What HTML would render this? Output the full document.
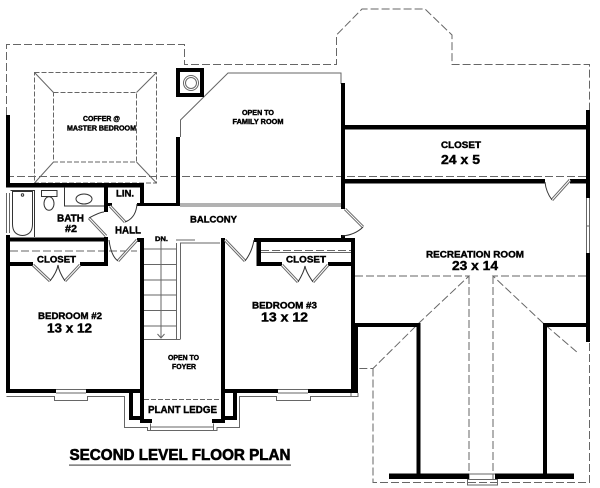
<!DOCTYPE html>
<html><head><meta charset="utf-8"><style>
html,body{margin:0;padding:0;background:#fff}
svg{display:block}
text{font-family:"Liberation Sans",sans-serif;font-weight:bold;fill:#000;stroke:#000;stroke-width:.4;text-anchor:middle}
.s{font-size:7px}.m{font-size:10px}.b{font-size:13px}
.d{fill:none;stroke:#666;stroke-width:1;stroke-dasharray:8 3}
.d2{fill:none;stroke:#666;stroke-width:1;stroke-dasharray:5 2}
.g{fill:none;stroke:#666;stroke-width:1}
.dr{fill:none;stroke:#666;stroke-width:3}
.dri{fill:none;stroke:#fff;stroke-width:1}
.k{fill:none;stroke:#333;stroke-width:1}
</style></head><body>
<svg width="600" height="488" viewBox="0 0 600 488" xmlns="http://www.w3.org/2000/svg">
<rect width="600" height="488" fill="#fff"/>

<path class="d" d="M6.500 115V44.500H184.500V64.500H336.500V35L362 9H425L452 35V64.500H589.500V110"/>
<path class="d" d="M6 176.500H590"/>
<path class="d2" d="M34.500 72.500H156.500V183H34.500Z"/>
<path class="d2" d="M53.500 92.500H136.500V162H53.500Z"/>
<path class="g" d="M34.500 72.500L53.500 92.500M156.500 72.500L136.500 92.500M34.500 183L53.500 162M156.500 183L136.500 162"/>
<path class="d" d="M355 276H469L419 323L373 368.500H358"/>
<path class="d" d="M586 276H493L543 323L578 353"/>
<path class="d" d="M469 276V480M493 276V480"/>
<path class="d" d="M373 368.500V482.500H589.500V342"/>
<path class="d" d="M10 251H137M261 250.500H351"/>
<path class="g" d="M261 252.500H351"/>
<path class="d2" d="M144 399.500H221"/>

<path class="g" d="M180.500 137V120L228 73H341V84"/>
<rect x="178" y="70" width="24" height="25" fill="#fff" stroke="#000" stroke-width="4"/>
<circle cx="191" cy="83" r="7.500" class="g"/>
<circle cx="191" cy="83" r="5.500" class="g"/>

<g fill="#000">
<rect x="6" y="115" width="4" height="72"/>
<rect x="6" y="235" width="4" height="158"/>
<rect x="6" y="183" width="138" height="4.500"/>
<rect x="176" y="137" width="4" height="69"/>
<rect x="341" y="83" width="4" height="126"/>
<rect x="345" y="125" width="241" height="4.500"/>
<rect x="345" y="179" width="200" height="4.500"/>
<rect x="570" y="179" width="16" height="4.500"/>
<rect x="586" y="110" width="4" height="88"/>
<rect x="586" y="253" width="4" height="89"/>
<rect x="104" y="187" width="4" height="25"/>
<rect x="140" y="184" width="4" height="20"/>
<rect x="108" y="203" width="4" height="3"/>
<rect x="137" y="203" width="43" height="3"/>
<rect x="10" y="237.500" width="98" height="4"/>
<rect x="104" y="237" width="4" height="29"/>
<rect x="8" y="262" width="25" height="4"/>
<rect x="80" y="262" width="28" height="4"/>
<rect x="137" y="238" width="7" height="4"/>
<rect x="140" y="238" width="4" height="185"/>
<rect x="221" y="238" width="4" height="185"/>
<rect x="254" y="238" width="101" height="4"/>
<rect x="341" y="235" width="4" height="4"/>
<rect x="256.500" y="240" width="4.500" height="26"/>
<rect x="257" y="262" width="25" height="4"/>
<rect x="328" y="262" width="27" height="4"/>
<rect x="351" y="240" width="4" height="84"/>
<rect x="351" y="323" width="7" height="70"/>
<rect x="351" y="323" width="69" height="4"/>
<rect x="416.500" y="323" width="4" height="152"/>
<rect x="543" y="323" width="4" height="152"/>
<rect x="543" y="323" width="43" height="4"/>
<rect x="389" y="473.500" width="80" height="5.500"/>
<rect x="495" y="473.500" width="79" height="5.500"/>
<rect x="6" y="389" width="50" height="4"/>
<rect x="86" y="389" width="54" height="4"/>
<rect x="225" y="389" width="53" height="4"/>
<rect x="308" y="389" width="43" height="4"/>
<rect x="129" y="389" width="4" height="31"/>
<rect x="129" y="416" width="15" height="4"/>
<rect x="233" y="389" width="4" height="31"/>
<rect x="221" y="416" width="16" height="4"/>
<rect x="140" y="419" width="12" height="4"/>
<rect x="212" y="419" width="13" height="4"/>
</g>

<path class="g" d="M6.500 396.500H54.500V400.500H87.500V396.500H124.500V427.500H147.500V430.500H150.500"/>
<path class="g" d="M150.500 423.500V430.500H213.500V423.500M150.500 427H213.500"/>
<path class="g" d="M213.500 430.500H217V427.500H239.500V396.500H276.500V400.500H310.500V396.500H351V393"/>
<path class="g" d="M56 389.500H86M56 393H86M278 389.500H308M278 393H308"/>
<path class="g" d="M358 393V396.500H340"/>
<path class="g" d="M469 474H495M467.500 479.500H497.500V485H467.500Z"/>
<path class="g" d="M586.500 198V253M589.500 198V253M586 226H590"/>
<path class="g" d="M6.500 193V233M9.500 193V233"/>
<path class="g" d="M180 204H341M180 206H341"/>
<path class="g" d="M176 240H195M180 243H220"/>
<path class="g" d="M176.500 243V339.500M180.500 243V339.500"/>
<path class="g" d="M144 249H176M144 264.500H176M144 280H176M144 295H176M144 310.500H176M144 326H176M144 339.500H180"/>
<path class="g" d="M161 241V338M157.500 334L161 338L164.500 334"/>

<path class="k" d="M10.500 190.500H34.500V237M12.500 191.500H32.500V224Q32.500 235 22.500 235.500Q12.500 235 12.500 224Z"/>
<circle cx="22.500" cy="195" r="1.200" class="k"/>
<path class="k" d="M41.500 190.500H57V196.500H41.500ZM64.500 187V206H104"/>
<ellipse cx="49" cy="203.500" rx="5" ry="6.800" class="k"/>
<ellipse cx="84" cy="199" rx="8" ry="5" class="k"/>

<path class="dr" d="M89 218L106 236M110 206L125 222M118 261L137 240M33 265L50 281M65 281L80 265M282 265L298 282M313 282L328 265M225 240L245 261M345 209L363 227M552 200L570 180"/>
<path class="dri" d="M89 218L106 236M110 206L125 222M118 261L137 240M33 265L50 281M65 281L80 265M282 265L298 282M313 282L328 265M225 240L245 261M345 209L363 227M552 200L570 180"/>
<path class="k" d="M89 218Q100 212 104 212M125 222Q136 218 137 204M118 261Q111 256 109 240M50 281Q57 272 58 265Q59 272 65 281M298 282Q304 272 305 266Q306 272 313 282M245 261Q252 252 254 240M363 227Q355 235 342 236M552 200Q546 192 545 182"/>

<text class="s" x="101.500" y="121" textLength="37" lengthAdjust="spacingAndGlyphs">COFFER @</text>
<text class="s" x="101.500" y="130.500" textLength="69" lengthAdjust="spacingAndGlyphs">MASTER BEDROOM</text>
<text class="s" x="258" y="115" textLength="32" lengthAdjust="spacingAndGlyphs">OPEN TO</text>
<text class="s" x="258" y="124" textLength="51" lengthAdjust="spacingAndGlyphs">FAMILY ROOM</text>
<text class="m" style="font-size:9px" x="461" y="148" textLength="40" lengthAdjust="spacingAndGlyphs">CLOSET</text>
<text class="b" x="460.500" y="164" textLength="39" lengthAdjust="spacingAndGlyphs">24 x 5</text>
<text class="m" style="font-size:9px" x="125" y="196.500" textLength="18" lengthAdjust="spacingAndGlyphs">LIN.</text>
<text class="m" x="70.500" y="221.500" textLength="27" lengthAdjust="spacingAndGlyphs">BATH</text>
<text class="m" x="71" y="232" textLength="12" lengthAdjust="spacingAndGlyphs">#2</text>
<text class="m" x="128" y="233.500" textLength="26" lengthAdjust="spacingAndGlyphs">HALL</text>
<text class="s" style="font-size:6px" x="161.500" y="241" textLength="13" lengthAdjust="spacingAndGlyphs">DN.</text>
<text class="m" style="font-size:9.500px" x="213.500" y="222.500" textLength="47" lengthAdjust="spacingAndGlyphs">BALCONY</text>
<text class="m" style="font-size:9.500px" x="56.500" y="262.500" textLength="39" lengthAdjust="spacingAndGlyphs">CLOSET</text>
<text class="m" style="font-size:9.500px" x="306" y="262.500" textLength="40" lengthAdjust="spacingAndGlyphs">CLOSET</text>
<text class="m" style="font-size:9.500px" x="70" y="319" textLength="64" lengthAdjust="spacingAndGlyphs">BEDROOM #2</text>
<text class="b" x="69.500" y="332.500" textLength="45" lengthAdjust="spacingAndGlyphs">13 x 12</text>
<text class="m" style="font-size:9.500px" x="284.500" y="308.500" textLength="65" lengthAdjust="spacingAndGlyphs">BEDROOM #3</text>
<text class="b" x="284.500" y="321.500" textLength="47" lengthAdjust="spacingAndGlyphs">13 x 12</text>
<text class="m" style="font-size:9.500px" x="475" y="257.500" textLength="98" lengthAdjust="spacingAndGlyphs">RECREATION ROOM</text>
<text class="b" x="475" y="270" textLength="46" lengthAdjust="spacingAndGlyphs">23 x 14</text>
<text class="s" x="183.500" y="360" textLength="31" lengthAdjust="spacingAndGlyphs">OPEN TO</text>
<text class="s" x="184" y="369" textLength="24" lengthAdjust="spacingAndGlyphs">FOYER</text>
<text class="m" x="182.500" y="413" textLength="69" lengthAdjust="spacingAndGlyphs">PLANT LEDGE</text>
<text style="font-size:15.500px;stroke-width:.6" x="180" y="460" textLength="221" lengthAdjust="spacingAndGlyphs">SECOND LEVEL FLOOR PLAN</text>
<rect x="69" y="464.500" width="222" height="1.200" fill="#555"/>
</svg>
</body></html>
